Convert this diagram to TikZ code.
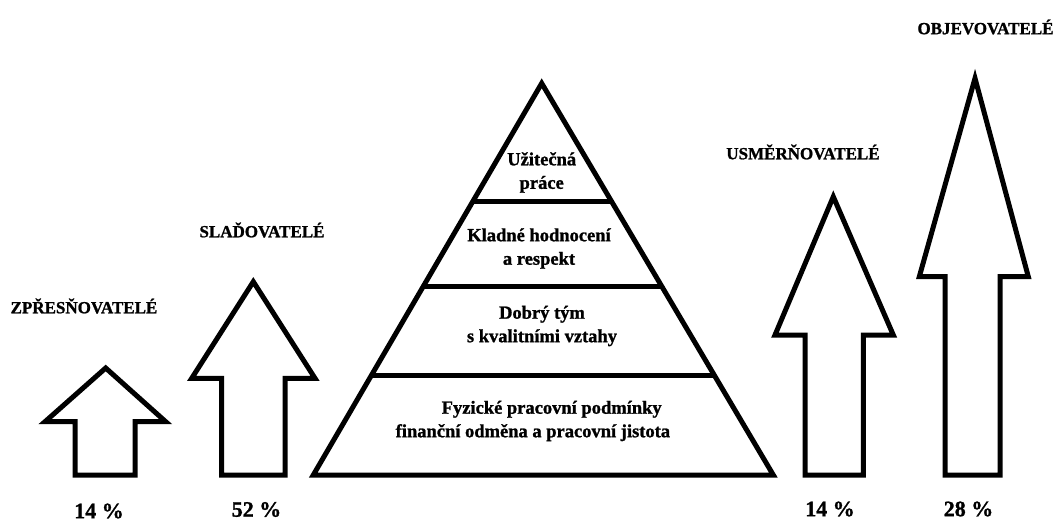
\documentclass[tikz,border=0pt]{standalone}
\usepackage{fontspec}
\setmainfont{Liberation Serif}[BoldFeatures={FakeBold=1.2}]
\usetikzlibrary{calc}
\tikzset{
  outl/.style={draw=black, line width=5pt, line join=miter, fill=white},
  lab/.style={font=\bfseries\fontsize{17}{20}\selectfont, inner sep=0pt},
  pct/.style={font=\bfseries\fontsize{22}{26}\selectfont, inner sep=0pt},
  ptext/.style={font=\bfseries\fontsize{18.5}{23.5}\selectfont, align=center, inner sep=0pt},
}
\begin{document}
\begin{tikzpicture}[x=1pt,y=-1pt]
\useasboundingbox (0,0) rectangle (1057,522);
% arrows
\draw[outl] (105.7,368) -- (165.7,421.7) -- (135,421.7) -- (135,475) -- (75,475) -- (75,421.7) -- (45,421.7) -- cycle;
\draw[outl] (253.3,281.7) -- (315,378.3) -- (285,378.3) -- (285,475) -- (221.7,475) -- (221.7,378.3) -- (191.7,378.3) -- cycle;
\draw[outl] (833.3,196.7) -- (893.3,335) -- (863.3,335) -- (863.3,475) -- (805,475) -- (805,335) -- (775,335) -- cycle;
\draw[outl] (975,78.3) -- (1028.3,276.7) -- (1000,276.7) -- (1000,475) -- (945,475) -- (945,276.7) -- (919.3,276.7) -- cycle;
% pyramid
\coordinate (apex) at (541.7,83.3);
\coordinate (bl) at (313.3,475);
\coordinate (br) at (773.3,475);
\draw[outl] (apex) -- (br) -- (bl) -- cycle;
\draw[line width=5pt] ($(apex)!0.3023!(bl)$) -- ($(apex)!0.3023!(br)$);
\draw[line width=5pt] ($(apex)!0.5193!(bl)$) -- ($(apex)!0.5193!(br)$);
\draw[line width=5pt] ($(apex)!0.7447!(bl)$) -- ($(apex)!0.7447!(br)$);
% pyramid texts
\node[ptext] (t1) at (541.7,172.5) {Užitečná\\práce};
\node[ptext] (t2) at (539,248.5) {Kladné hodnocení\\a respekt};
\node[ptext] (t3) at (542,326) {Dobrý tým\\s kvalitními vztahy};
\node[ptext, align=left, anchor=west] (t4) at (395.5,421) {\hspace*{46pt}Fyzické pracovní podmínky\\finanční odměna a pracovní jistota};
% labels
\node[lab] (l1) at (84,306) {ZPŘESŇOVATELÉ};
\node[lab] (l2) at (262,230) {SLAĎOVATELÉ};
\node[lab] (l3) at (803,152) {USMĚRŇOVATELÉ};
\node[lab] (l4) at (985.5,27) {OBJEVOVATELÉ};
% percentages
\node[pct] (p1) at (99,511) {14 \%};
\node[pct] (p2) at (256.5,509.5) {52 \%};
\node[pct] (p3) at (830,509) {14 \%};
\node[pct] (p4) at (968.5,509) {28 \%};
\end{tikzpicture}
\end{document}
